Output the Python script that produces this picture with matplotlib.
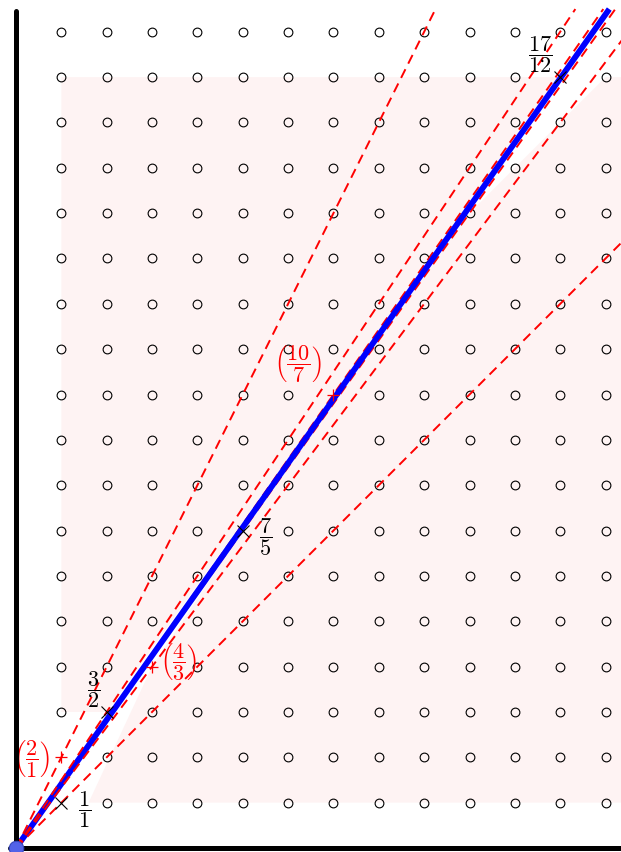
import numpy as np
import matplotlib
matplotlib.use("Agg")
import matplotlib.pyplot as plt
from matplotlib.patches import Polygon

plt.rcParams['mathtext.fontset'] = 'cm'

# lattice
grid_x = list(range(1, 14))
grid_y = list(range(1, 19))

# convergents of sqrt(2) (numerator p, denominator q) -> point (q, p)
conv_p = [1, 3, 7, 17]
conv_q = [1, 2, 5, 12]
# intermediate fractions
inter_p = [2, 4, 10]
inter_q = [1, 3, 7]

# shaded regions (sails) in data coords
upper_poly = [(1, 3), (2, 3), (12, 17), (1, 17)]
lower_poly = [(1.6, 1), (3, 4), (5, 7), (10, 14), (13, 17), (14, 17), (14, 1)]

line_top = 18.5  # where the lines stop

# label offsets (points) and alignment
conv_lab = [(12, -5, 'left'), (-5, 16.5, 'right'), (11.5, -5, 'left'), (-5.5, 16, 'right')]
inter_lab = [(-8.5, -1, 'right'), (5.5, 3.5, 'left'), (-8.5, 22, 'right')]

fig = plt.figure(figsize=(6.21, 8.52), dpi=100)
ax = fig.add_axes([0, 0, 1, 1])
ax.set_xlim(-0.353, 13.34)
ax.set_ylim(-0.088, 18.70)
ax.axis('off')

pink = '#fef3f3'
ax.add_patch(Polygon(upper_poly, closed=True, fc=pink, ec='none', zorder=0))
ax.add_patch(Polygon(lower_poly, closed=True, fc=pink, ec='none', zorder=0))

# lattice circles (skip marked points)
marked = set(zip(conv_q, conv_p)) | set(zip(inter_q, inter_p))
pts = [(x, y) for x in grid_x for y in grid_y if (x, y) not in marked]
ax.plot([p[0] for p in pts], [p[1] for p in pts], 'o', ms=6.3, mfc='none',
        mec='black', mew=0.8, zorder=2)

# sqrt(2) line
r2 = np.sqrt(2)
ax.plot([0, line_top / r2], [0, line_top], color='blue', lw=4.2,
        solid_capstyle='butt', zorder=3.5)

# dashed lines through each fraction (the ones hugging sqrt2 sit under it)
for p, q in list(zip(conv_p, conv_q)) + list(zip(inter_p, inter_q)):
    m = p / q
    z = 3 if abs(m - r2) < 0.05 else 4
    ax.plot([0, line_top / m], [0, line_top], color='red', lw=1.4,
            dashes=(5, 3.2), zorder=z)

ax.plot(conv_q, conv_p, 'x', color='black', ms=8.5, mew=0.8, zorder=5)
ax.plot(inter_q, inter_p, '+', color='red', ms=8, mew=0.9, zorder=5)

for p, q, (dx, dy, ha) in zip(conv_p, conv_q, conv_lab):
    ax.annotate(r'$\dfrac{%d}{%d}$' % (p, q), (q, p), xytext=(dx, dy),
                textcoords='offset points', ha=ha, va='center', fontsize=16,
                color='black', zorder=6)
for p, q, (dx, dy, ha) in zip(inter_p, inter_q, inter_lab):
    ax.annotate(r'$\left(\dfrac{%d}{%d}\right)$' % (p, q), (q, p), xytext=(dx, dy),
                textcoords='offset points', ha=ha, va='center', fontsize=16,
                color='red', zorder=6)

# axes
ax.plot([0, 0], [-0.2, 18.45], color='black', lw=3.6, solid_capstyle='round', zorder=7)
ax.plot([-0.13, 14], [0, 0], color='black', lw=3.6, solid_capstyle='round', zorder=7)

ax.plot([0], [0], 'o', ms=10.5, color='#5262e8', mec='#3444b8', mew=0.8,
        zorder=8, clip_on=False)

fig.savefig('out.png', dpi=100)
